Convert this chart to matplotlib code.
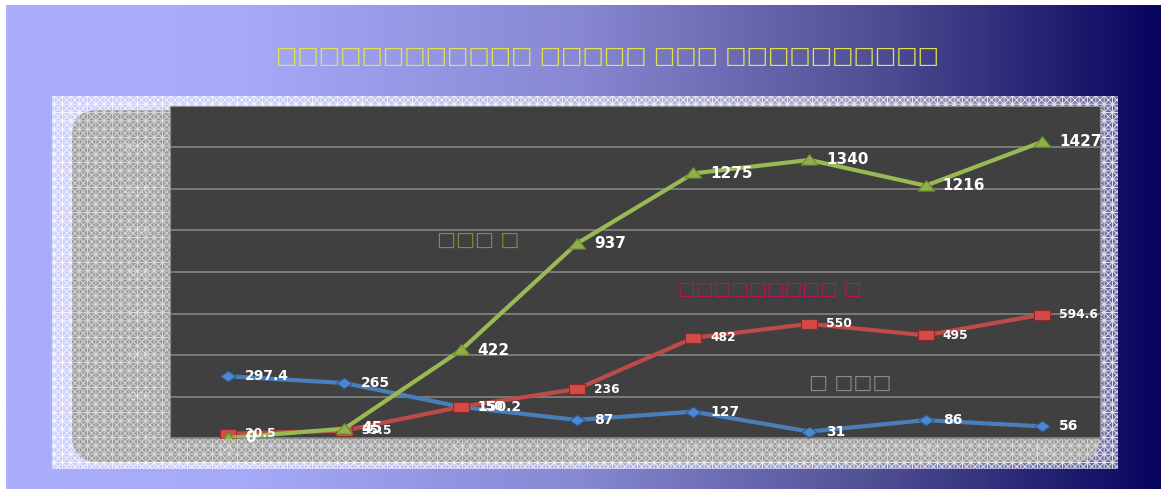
import numpy as np
import matplotlib
matplotlib.use("Agg")
import matplotlib.pyplot as plt
from matplotlib.patches import Rectangle, FancyBboxPatch
from matplotlib.path import Path
from matplotlib.colors import LinearSegmentedColormap

# ---------------- data ----------------
categories = ['۱۳۸۰', '۱۳۸۱', '۱۳۸۲', '۱۳۸۳', '۱۳۸۴', '۱۳۸۵', '۱۳۸۶', '۱۳۸۷']
blue_vals = [297.4, 265, 150.2, 87, 127, 31, 86, 56]
red_vals = [20.5, 35.5, 150, 236, 482, 550, 495, 594.6]
green_vals = [0, 45, 422, 937, 1275, 1340, 1216, 1427]
yticks = [0, 200, 400, 600, 800, 1000, 1200, 1400, 1600]
title_text = '□□□□□□□□□□□□ □□□□□ □□□ □□□□□□□□□□'
green_name = '□□□ □'
red_name = '□□□□□□□□□ □'
blue_name = '□ □□□'

plt.rcParams['hatch.linewidth'] = 0.7

W, H = 1161, 493
fig = plt.figure(figsize=(W / 100, H / 100), dpi=100)
fig.patch.set_facecolor('white')

# ---------------- background layer (pixel coordinates) ----------------
bg = fig.add_axes([0, 0, 1, 1])
bg.set_xlim(0, W)
bg.set_ylim(H, 0)
bg.axis('off')

cmap = LinearSegmentedColormap.from_list(
    'bggrad',
    [(0.0, (170/255, 174/255, 253/255)),
     (0.2, (166/255, 170/255, 248/255)),
     (0.5, (135/255, 135/255, 210/255)),
     (0.75, (82/255, 80/255, 148/255)),
     (1.0, (8/255, 4/255, 94/255))])
grad = np.linspace(0, 1, 512).reshape(1, -1)
bg.imshow(grad, cmap=cmap, aspect='auto', extent=[6, W, 489, 5], zorder=0)

# hatched outer frame
bg.add_patch(Rectangle((52, 96), 1066, 373, facecolor=(1, 1, 1, 0.38),
                       edgecolor=(1, 1, 1, 0.8), hatch='++xxxx', lw=0, zorder=1))
# grey rounded panel
bg.add_patch(FancyBboxPatch((72, 110), 1028, 352,
                            boxstyle='round,pad=0,rounding_size=26',
                            facecolor='#9c9c9c', edgecolor=(1, 1, 1, 0.6),
                            hatch='++xxxx', lw=0, zorder=2))

# title
bg.text(608, 56, title_text, ha='center', va='center', fontsize=16.3,
        color='#e2e24e', zorder=3)

# ---------------- main plot ----------------
ax = fig.add_axes([170 / W, 1 - 438 / H, 930 / W, 332 / H])
ax.set_facecolor('#404040')
x = np.arange(len(categories))

diamond = Path([(-1, 0), (0, 0.7), (1, 0), (0, -0.7), (-1, 0)],
               [Path.MOVETO, Path.LINETO, Path.LINETO, Path.LINETO, Path.CLOSEPOLY])
rect = Path([(-1, -0.62), (1, -0.62), (1, 0.62), (-1, 0.62), (-1, -0.62)],
            [Path.MOVETO, Path.LINETO, Path.LINETO, Path.LINETO, Path.CLOSEPOLY])
tri = Path([(-1, -0.55), (1, -0.55), (0, 0.7), (-1, -0.55)],
           [Path.MOVETO, Path.LINETO, Path.LINETO, Path.CLOSEPOLY])

ax.plot(x, blue_vals, color='#4a7ebb', lw=3, marker=diamond, markersize=11,
        markerfacecolor='#4f86d0', markeredgecolor='#2d5a96', markeredgewidth=0.8,
        zorder=3, solid_capstyle='round')
ax.plot(x, red_vals, color='#be4b48', lw=3, marker=rect, markersize=12,
        markerfacecolor='#d44a45', markeredgecolor='#8c2a28', markeredgewidth=0.8,
        zorder=4, solid_capstyle='round')
ax.plot(x, green_vals, color='#98b954', lw=3, marker=tri, markersize=12,
        markerfacecolor='#8fb04a', markeredgecolor='#6a8a30', markeredgewidth=0.8,
        zorder=5, solid_capstyle='round')

for xi, v in zip(x, blue_vals):
    ax.annotate(f'{v:g}', (xi, v), xytext=(17, 0), textcoords='offset pixels',
                ha='left', va='center', fontsize=10, fontweight='bold',
                color='white', zorder=6)
for xi, v in zip(x, red_vals):
    ax.annotate(f'{v:g}', (xi, v), xytext=(17, 0), textcoords='offset pixels',
                ha='left', va='center', fontsize=8.8, fontweight='bold',
                color='white', zorder=6)
for xi, v in zip(x, green_vals):
    ax.annotate(f'{v:g}', (xi, v), xytext=(17, 0), textcoords='offset pixels',
                ha='left', va='center', fontsize=11, fontweight='bold',
                color='white', zorder=7)

# series names inside plot
ax.text(0.331, 0.596, green_name, transform=ax.transAxes, ha='center', va='center',
        fontsize=14.5, color='#77933c', zorder=2)
ax.text(0.645, 0.446, red_name, transform=ax.transAxes, ha='center', va='center',
        fontsize=13.5, color='#c0105a', zorder=2)
ax.text(0.731, 0.166, blue_name, transform=ax.transAxes, ha='center', va='center',
        fontsize=14.5, color='#8a8a8a', zorder=2)

ax.set_xlim(-0.5, len(categories) - 0.5)
ax.set_ylim(0, 1600)
ax.set_yticks(yticks)
ax.set_yticklabels([str(t) for t in yticks])
ax.set_xticks(x)
ax.set_xticklabels(categories)
ax.grid(axis='y', color='#7f7f7f', lw=1.3, zorder=1)
ax.set_axisbelow(True)
ax.tick_params(axis='both', length=0, labelsize=8, labelcolor=(1, 1, 1, 0.35))
ax.tick_params(axis='y', pad=14)
ax.tick_params(axis='x', pad=6)
for s in ax.spines.values():
    s.set_color('#8c8c8c')
    s.set_linewidth(0.8)

fig.savefig('out.png', dpi=100)
